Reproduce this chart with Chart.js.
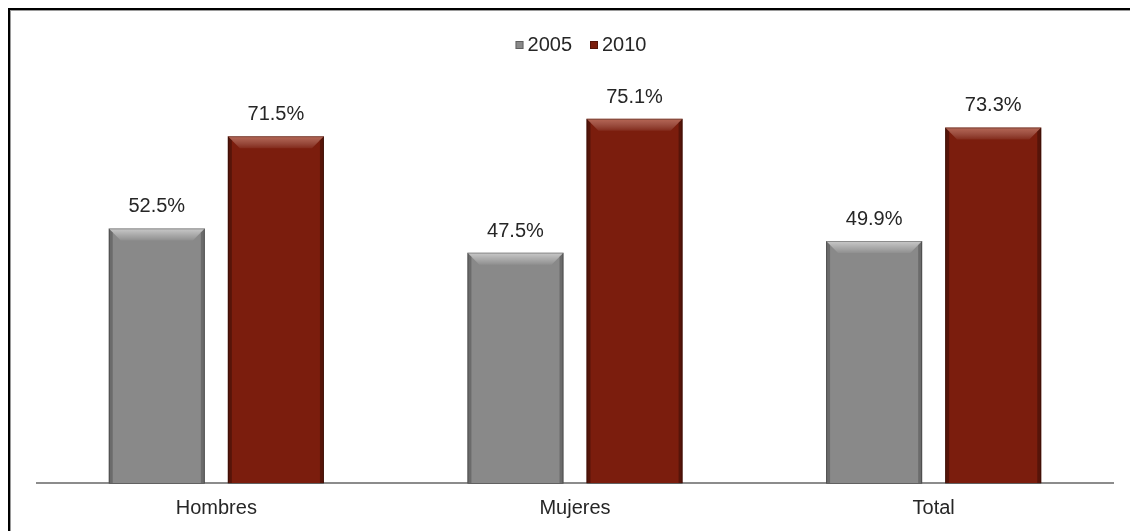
<!DOCTYPE html>
<html>
<head>
<meta charset="utf-8">
<script src="https://cdn.jsdelivr.net/npm/chart.js@4"></script>
<style>
  html, body { margin: 0; padding: 0; background: #fff; }
  #wrap { position: relative; width: 1130px; height: 531px; overflow: hidden; }
  #frame { position: absolute; left: 8px; top: 8px; width: 1200px; height: 600px;
           border-left: 2px solid #000; border-top: 2px solid #000;
           box-shadow: inset 1px 1px 0 #9a9a9a; }
  canvas { position: absolute; left: 0; top: 0; }
</style>
</head>
<body>
<div id="wrap">
  <div id="frame"></div>
  <canvas id="chart" width="1130" height="531"></canvas>
</div>
<script>
const categories = ['Hombres', 'Mujeres', 'Total'];
const years = ['2005', '2010'];
const values2005 = [52.5, 47.5, 49.9];
const values2010 = [71.5, 75.1, 73.3];

const colors = ['#898989', '#7b1d0d'];
const bevelLight = ['rgba(255,255,255,0.55)', 'rgba(255,190,170,0.45)'];
const bevelDark = ['rgba(0,0,0,0.22)', 'rgba(0,0,0,0.3)'];
const FONT = '"Liberation Sans", Arial, sans-serif';

// bevelled look for the bars
const bevelPlugin = {
  id: 'bevel',
  afterDatasetsDraw(chart) {
    const ctx = chart.ctx;
    chart.data.datasets.forEach((ds, di) => {
      chart.getDatasetMeta(di).data.forEach(bar => {
        const l = bar.x - bar.width / 2, r = bar.x + bar.width / 2;
        const t = bar.y, b = bar.base, e = 12;
        ctx.save();
        const g = ctx.createLinearGradient(0, t, 0, t + e);
        g.addColorStop(0, bevelLight[di]);
        g.addColorStop(1, 'rgba(255,255,255,0.06)');
        ctx.fillStyle = g;
        ctx.beginPath();
        ctx.moveTo(l, t); ctx.lineTo(r, t); ctx.lineTo(r - e, t + e); ctx.lineTo(l + e, t + e);
        ctx.closePath(); ctx.fill();
        ctx.fillStyle = bevelDark[di];
        ctx.beginPath();
        ctx.moveTo(r, t); ctx.lineTo(r, b); ctx.lineTo(r - 4, b); ctx.lineTo(r - 4, t + 4);
        ctx.closePath(); ctx.fill();
        ctx.beginPath();
        ctx.moveTo(l, t); ctx.lineTo(l, b); ctx.lineTo(l + 4, b); ctx.lineTo(l + 4, t + 4);
        ctx.closePath(); ctx.fill();
        ctx.strokeStyle = 'rgba(0,0,0,0.3)';
        ctx.lineWidth = 1;
        ctx.strokeRect(l + 0.5, t + 0.5, bar.width - 1, b - t);
        ctx.restore();
      });
    });
  }
};

// value labels above bars
const labelPlugin = {
  id: 'valueLabels',
  afterDatasetsDraw(chart) {
    const ctx = chart.ctx;
    ctx.save();
    ctx.font = '20px ' + FONT;
    ctx.fillStyle = '#262626';
    ctx.textAlign = 'center';
    ctx.textBaseline = 'alphabetic';
    chart.data.datasets.forEach((ds, di) => {
      chart.getDatasetMeta(di).data.forEach((bar, i) => {
        ctx.fillText(ds.data[i].toFixed(1) + '%', bar.x, bar.y - 16);
      });
    });
    ctx.restore();
  }
};

// small legend with square markers, centred above the plot
const legendPlugin = {
  id: 'topLegend',
  afterDraw(chart) {
    const ctx = chart.ctx;
    const box = 8, gapText = 4, gapItem = 18, y = 44;
    ctx.save();
    ctx.font = '20px ' + FONT;
    ctx.textBaseline = 'middle';
    const widths = years.map(t => ctx.measureText(t).width);
    const total = widths.reduce((a, w) => a + box + gapText + w, 0) + gapItem * (years.length - 1);
    let x = (chart.chartArea.left + chart.chartArea.right) / 2 + 6 - total / 2;
    years.forEach((t, i) => {
      ctx.fillStyle = colors[i];
      ctx.fillRect(x, y - box / 2 + 1, box, box);
      ctx.strokeStyle = 'rgba(0,0,0,0.3)';
      ctx.strokeRect(x + 0.5, y - box / 2 + 1.5, box - 1, box - 1);
      x += box + gapText;
      ctx.fillStyle = '#262626';
      ctx.fillText(t, x, y + 1);
      x += widths[i] + gapItem;
    });
    ctx.restore();
  }
};

new Chart(document.getElementById('chart'), {
  type: 'bar',
  data: {
    labels: categories,
    datasets: [
      { label: years[0], data: values2005, backgroundColor: colors[0] },
      { label: years[1], data: values2010, backgroundColor: colors[1] }
    ]
  },
  options: {
    responsive: false,
    animation: false,
    layout: { padding: { left: 37, right: 17, top: 95, bottom: -2 } },
    datasets: { bar: { categoryPercentage: 0.664, barPercentage: 0.807 } },
    plugins: {
      legend: { display: false },
      tooltip: { enabled: false }
    },
    scales: {
      x: {
        grid: { display: false, drawTicks: false },
        border: { color: '#8c8c8c', width: 2 },
        ticks: { color: '#262626', padding: 13, font: { size: 20, family: FONT } }
      },
      y: { display: false, min: 0, max: 80 }
    }
  },
  plugins: [bevelPlugin, labelPlugin, legendPlugin]
});
</script>
</body>
</html>
